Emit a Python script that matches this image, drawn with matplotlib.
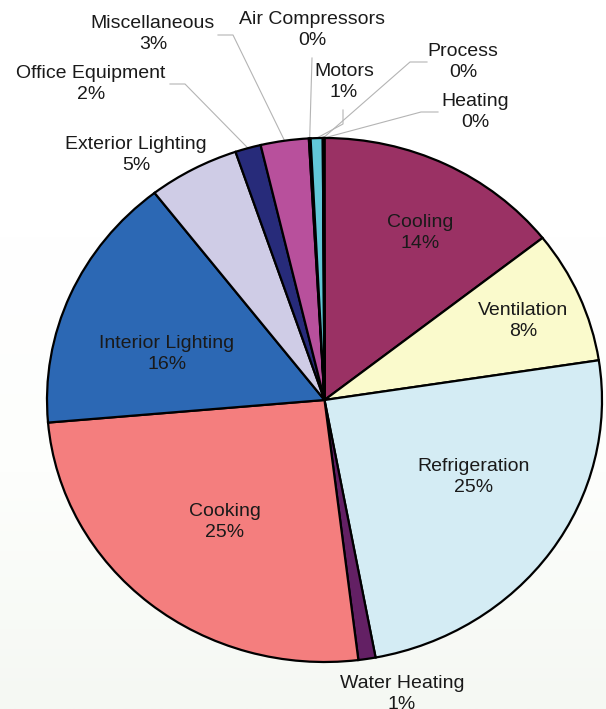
import numpy as np
import matplotlib
matplotlib.use("Agg")
import matplotlib.pyplot as plt
from matplotlib.colors import LinearSegmentedColormap

# ---- data (clockwise from 12 o'clock) ----
categories = ["Cooling", "Ventilation", "Refrigeration", "Water Heating", "Cooking",
              "Interior Lighting", "Exterior Lighting", "Office Equipment",
              "Miscellaneous", "Air Compressors", "Motors", "Process", "Heating"]
shares = [14.4, 8.2, 24.5, 1.0, 25.6, 15.9, 5.3, 1.5, 2.8, 0.1, 0.7, 0.05, 0.05]
pct_labels = [14, 8, 25, 1, 25, 16, 5, 2, 3, 0, 1, 0, 0]
colors = ["#9a3164", "#fafacc", "#d4ecf4", "#632064", "#f47e7e", "#2c68b4",
          "#cfcce6", "#272b7a", "#b8509c", "#8e8ec8", "#62c8d8", "#7fa0c8", "#c89060"]

W, H = 606, 709
fig = plt.figure(figsize=(W / 100, H / 100), dpi=100)
fig.patch.set_facecolor("white")

# background gradient
bg = fig.add_axes([0, 0, 1, 1], zorder=0)
grad = np.linspace(0, 1, 256).reshape(-1, 1)
cmap = LinearSegmentedColormap.from_list("bg", ["#ffffff", "#ffffff", "#fdfefc", "#f5f8f3"])
bg.imshow(grad, aspect="auto", cmap=cmap, extent=[0, 1, 0, 1], origin="upper")
bg.axis("off")

# pie axes positioned on the pie's bounding box (pixels)
L, R, T, B = 47, 602, 138, 662
ax = fig.add_axes([L / W, 1 - B / H, (R - L) / W, (B - T) / H], zorder=1)
cx, cy = (L + R) / 2, (T + B) / 2
rx, ry = (R - L) / 2, (B - T) / 2


def px(x, y):
    return (x - cx) / rx, (cy - y) / ry


wedges, _ = ax.pie(shares, colors=colors, startangle=90, counterclock=False,
                   wedgeprops=dict(edgecolor="black", linewidth=1.6))
ax.set_aspect("auto")
ax.set_xlim(-1, 1)
ax.set_ylim(-1, 1)
ax.axis("off")

txt = dict(fontsize=14, family="Liberation Sans", color="#1a1a1a",
           ha="center", va="center", linespacing=1.3, clip_on=False)

# inner labels
inner_pos = {"Cooling": (420, 233), "Ventilation": (523, 321),
             "Refrigeration": (474, 477), "Cooking": (225, 522),
             "Interior Lighting": (167, 354)}
# outer labels: text centre, leader start, elbow
outer_pos = {
    "Exterior Lighting": ((136, 155), None, None),
    "Office Equipment": ((91, 84), (170, 84), (185, 84)),
    "Miscellaneous": ((153, 34), (218, 35), (233, 35)),
    "Air Compressors": ((312, 30), (312, 58), (312, 58)),
    "Motors": ((344, 82), (343, 110), (343, 124)),
    "Process": ((463, 62), (427, 62), (410, 62)),
    "Heating": ((475, 112), (438, 112), (421, 112)),
    "Water Heating": ((402, 694), None, None),
}

for i, (cat, w) in enumerate(zip(categories, wedges)):
    label = f"{cat}\n{pct_labels[i]}%"
    if cat in inner_pos:
        ax.text(*px(*inner_pos[cat]), label, **txt)
    else:
        (tx, ty), start, elbow = outer_pos[cat]
        ax.text(*px(tx, ty), label, **txt)
        if start is not None:
            mid = np.deg2rad((w.theta1 + w.theta2) / 2)
            ex, ey = np.cos(mid), np.sin(mid)
            sx, sy = px(*start)
            bx, by = px(*elbow)
            ax.plot([sx, bx, ex], [sy, by, ey], color="#b4b4b4", lw=0.8,
                    clip_on=False, zorder=0.5)

fig.savefig("out.png", dpi=100)
